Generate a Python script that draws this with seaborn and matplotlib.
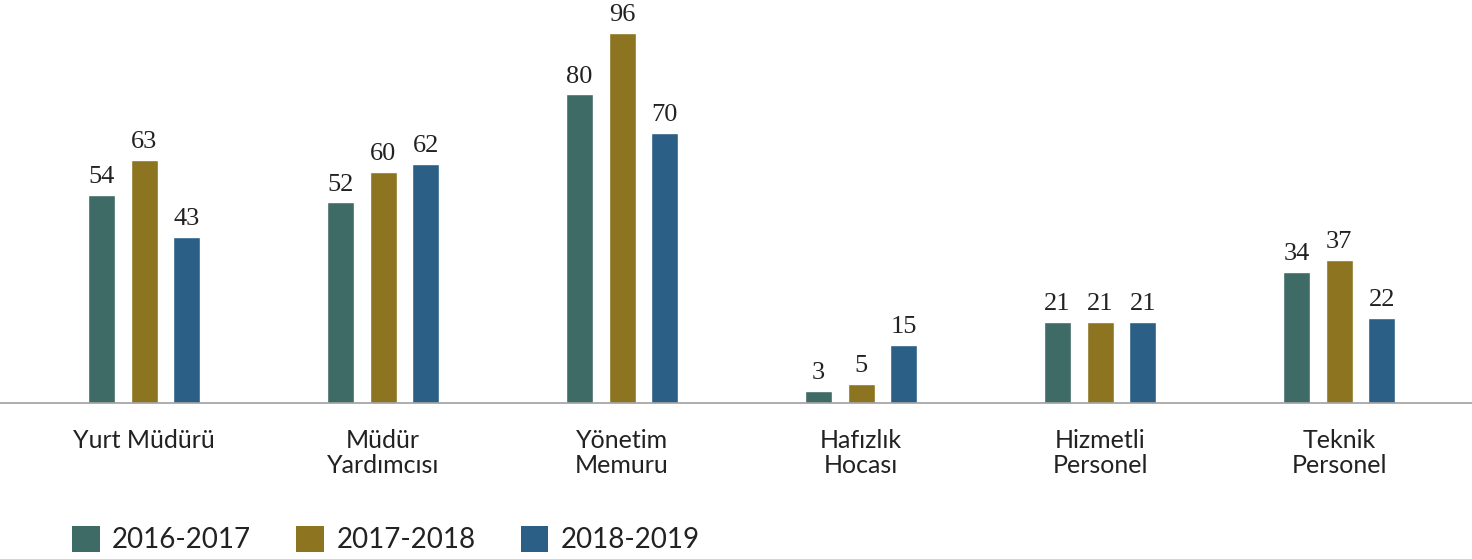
import matplotlib
matplotlib.use("Agg")
import matplotlib.pyplot as plt
import seaborn as sns
import pandas as pd
from matplotlib.patches import Patch

categories = ["Yurt Müdürü", "Müdür\nYardımcısı", "Yönetim\nMemuru", "Hafızlık\nHocası", "Hizmetli\nPersonel", "Teknik\nPersonel"]
years = ["2016-2017", "2017-2018", "2018-2019"]
v2016 = [54, 52, 80, 3, 21, 34]
v2017 = [63, 60, 96, 5, 21, 37]
v2018 = [43, 62, 70, 15, 21, 22]
colors = ["#3f6b66", "#8c7421", "#2b5f86"]

rows = []
for yr, vals in zip(years, [v2016, v2017, v2018]):
    for c, v in zip(categories, vals):
        rows.append({"cat": c, "year": yr, "val": v})
df = pd.DataFrame(rows)

sns.set_theme(style="white")
plt.rcParams["font.family"] = ["Lato", "DejaVu Sans"]

fig = plt.figure(figsize=(14.72, 5.59), dpi=100)
ax = fig.add_axes([0, 156/559, 1, 403/559])
sns.barplot(data=df, x="cat", y="val", hue="year", palette=colors, order=categories,
            hue_order=years, width=0.534, gap=0.365, ax=ax, legend=False, saturation=1)

for cont in ax.containers:
    ax.bar_label(cont, padding=5, fontsize=19, family="Liberation Serif", color="#222222")

ax.set_xlim(-0.6025, 5.556)
ax.set_ylim(0, 104.5)
for s in ["top", "left", "right"]:
    ax.spines[s].set_visible(False)
ax.spines["bottom"].set_color("#a0a0a0")
ax.spines["bottom"].set_linewidth(1.2)
ax.set_yticks([])
ax.set_xlabel("")
ax.set_ylabel("")
ax.tick_params(axis="x", length=0, pad=19, labelsize=18, labelcolor="#222222")
for t in ax.get_xticklabels():
    t.set_linespacing(1.1)
    t.set_verticalalignment("top")

handles = [Patch(facecolor=c, edgecolor="none", label=y) for c, y in zip(colors, years)]
fig.legend(handles=handles, loc="lower left", bbox_to_anchor=(58/1472, -8/559), ncol=3,
           frameon=False, fontsize=20, handlelength=1.0, handleheight=1.05,
           handletextpad=0.45, columnspacing=1.62, labelcolor="#222222", borderaxespad=0.1)

fig.savefig("out.png", dpi=100, facecolor="white")
